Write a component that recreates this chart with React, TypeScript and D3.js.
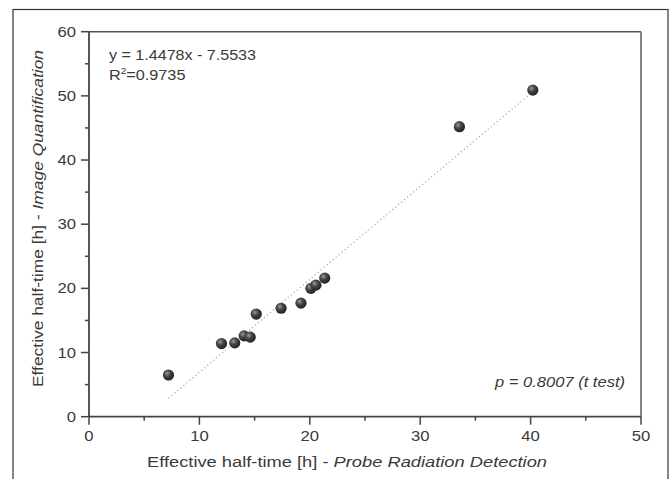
import React from "react";
import * as d3 from "d3";

const probeX = [7.2, 12.0, 13.2, 14.05, 14.6, 15.15, 17.4, 19.2, 20.1, 20.55, 21.35, 33.55, 40.2];
const imageY = [6.5, 11.4, 11.5, 12.6, 12.4, 16.0, 16.9, 17.7, 20.0, 20.5, 21.6, 45.2, 50.9];
const xTicks = [0, 10, 20, 30, 40, 50];
const yTicks = [0, 10, 20, 30, 40, 50, 60];
const xMinor = [5, 15, 25, 35, 45];
const yMinor = [5, 15, 25, 35, 45, 55];
const slope = 1.4478;
const intercept = -7.5533;
const fitRange = [7.2, 40.2];

const W = 672;
const H = 479;
const L = 89, R = 641, T = 31.7, B = 416.7;

export default function App() {
  const x = d3.scaleLinear().domain([0, 50]).range([L, R]);
  const y = d3.scaleLinear().domain([0, 60]).range([B, T]);
  const font = "'Liberation Sans', Arial, sans-serif";
  const ink = "#3a3a3a";
  const line = d3.line<number>().x((d) => x(d)).y((d) => y(slope * d + intercept));

  return (
    <svg width={W} height={H} style={{ position: "absolute", left: 0, top: 0, background: "#fff" }} fontFamily={font}>
      <defs>
        <radialGradient id="ball" cx="0.38" cy="0.35" r="0.65">
          <stop offset="0" stopColor="#9a9a9a" />
          <stop offset="0.45" stopColor="#444" />
          <stop offset="1" stopColor="#222" />
        </radialGradient>
      </defs>
      {/* outer frame */}
      <rect x={13} y={9.5} width={655} height={H + 10} fill="none" stroke="#333" strokeWidth={1.2} />
      {/* plot box */}
      <line x1={L} x2={R} y1={T} y2={T} stroke="#555" strokeWidth={1.5} />
      <line x1={R} x2={R} y1={T} y2={B} stroke="#777" strokeWidth={1.8} />
      <line x1={L} x2={R} y1={B} y2={B} stroke="#444" strokeWidth={1.8} />
      <line x1={L} x2={L} y1={T} y2={B} stroke="#444" strokeWidth={1.8} />
      {/* x ticks */}
      {xTicks.map((t) => (
        <g key={"xt" + t}>
          <line x1={x(t)} x2={x(t)} y1={B} y2={B + 8} stroke="#444" strokeWidth={1.5} />
          <text x={x(t)} y={441} textAnchor="middle" fontSize={14.5} fill={ink}
            transform={`translate(${x(t)},0) scale(1.15,1) translate(${-x(t)},0)`}>{t}</text>
        </g>
      ))}
      {xMinor.map((t) => (
        <line key={"xm" + t} x1={x(t)} x2={x(t)} y1={B} y2={B + 4} stroke="#444" strokeWidth={1.5} />
      ))}
      {/* y ticks */}
      {yTicks.map((t) => (
        <g key={"yt" + t}>
          <line x1={L - 8} x2={L} y1={y(t)} y2={y(t)} stroke="#444" strokeWidth={1.5} />
          <text x={76} y={y(t) + 5} textAnchor="end" fontSize={14.5} fill={ink}
            transform={`translate(76,0) scale(1.15,1) translate(-76,0)`}>{t}</text>
        </g>
      ))}
      {yMinor.map((t) => (
        <line key={"ym" + t} x1={L - 4} x2={L} y1={y(t)} y2={y(t)} stroke="#444" strokeWidth={1.5} />
      ))}
      {/* fit line */}
      <path d={line(fitRange) || ""} fill="none" stroke="#b0b0b0" strokeWidth={1.3} strokeDasharray="1.3 2.6" />
      {/* points */}
      {probeX.map((v, i) => (
        <circle key={"p" + i} cx={x(v)} cy={y(imageY[i])} r={5.6} fill="url(#ball)" />
      ))}
      {/* annotations */}
      <text x={109} y={60} fontSize={14.5} fill={ink} textLength={147} lengthAdjust="spacingAndGlyphs">y = 1.4478x - 7.5533</text>
      <text x={109} y={80} fontSize={14.5} fill={ink}
        transform="translate(109,0) scale(1.12,1) translate(-109,0)">
        R<tspan fontSize={9} dy={-6}>2</tspan><tspan dy={6}>=0.9735</tspan>
      </text>
      <text x={495} y={387} fontSize={14.5} fill={ink} fontStyle="italic" textLength={130} lengthAdjust="spacingAndGlyphs">p = 0.8007 (t test)</text>
      {/* axis titles */}
      <text x={147} y={467} fontSize={15.5} fill={ink} textLength={400} lengthAdjust="spacingAndGlyphs">
        Effective half-time [h] - <tspan fontStyle="italic">Probe Radiation Detection</tspan>
      </text>
      <text transform={`translate(43, 387) rotate(-90)`} fontSize={15.5} fill={ink} textLength={337} lengthAdjust="spacingAndGlyphs">
        Effective half-time [h] - <tspan fontStyle="italic">Image Quantification</tspan>
      </text>
    </svg>
  );
}
